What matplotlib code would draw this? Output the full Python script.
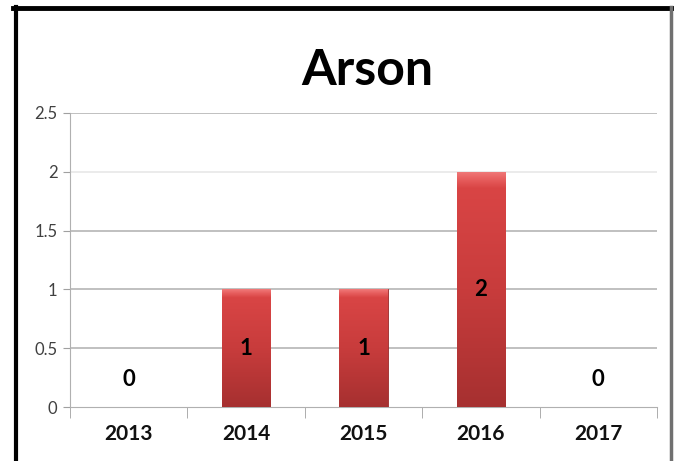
import numpy as np
import matplotlib.pyplot as plt
from matplotlib.lines import Line2D

years = ["2013", "2014", "2015", "2016", "2017"]
counts = [0, 1, 1, 2, 0]
yticks = [0, 0.5, 1, 1.5, 2, 2.5]
ytick_labels = ["0", "0.5", "1", "1.5", "2", "2.5"]

plt.rcParams['font.family'] = ['Lato', 'DejaVu Sans']

fig = plt.figure(figsize=(6.74, 4.61), dpi=100)
ax = fig.add_axes([0.1039, 0.1171, 0.8709, 0.6378])

x = np.arange(len(years))
bars = ax.bar(x, counts, width=0.41, color="#c93a3a", edgecolor="#9a2a2a", linewidth=0.6, zorder=3)

# vertical gradient on each bar, with a light strip at the top
grad = np.linspace(0, 1, 256).reshape(-1, 1)
cmap = plt.matplotlib.colors.LinearSegmentedColormap.from_list(
    "redgrad", [(0, "#a63030"), (0.5, "#c83c3c"), (0.93, "#d94545"),
                (0.97, "#e86060"), (1, "#f07a7a")])
for b in bars:
    if b.get_height() <= 0:
        continue
    x0, y0 = b.get_x(), b.get_y()
    w, h = b.get_width(), b.get_height()
    im = ax.imshow(grad, extent=[x0, x0 + w, y0, y0 + h], origin="lower",
                   cmap=cmap, aspect="auto", zorder=3.5)
    im.set_clip_path(b)

ax.set_xlim(-0.5, len(years) - 0.5)
ax.set_ylim(0, 2.5)

ax.set_yticks(yticks)
ax.set_yticklabels(ytick_labels, fontsize=12, color="#404040")
ax.set_xticks(x)
ax.set_xticklabels(years, fontsize=15, fontweight="bold", color="#111111")
ax.tick_params(axis="x", length=0, pad=12)
ax.tick_params(axis="y", length=5, color="#a0a0a0", pad=4)
ax.set_xticks(np.arange(-0.5, len(years)), minor=True)
ax.tick_params(axis="x", which="minor", length=8, color="#a0a0a0")

for yv in yticks[1:]:
    ax.axhline(yv, color="#e8e8e8" if yv == 2 else "#b5b5b5", linewidth=1.2, zorder=1)

for side in ["top", "right"]:
    ax.spines[side].set_visible(False)
ax.spines["left"].set_color("#b0b0b0")
ax.spines["bottom"].set_color("#b0b0b0")

for xi, c in zip(x, counts):
    if c == 0:
        ax.annotate(str(c), (xi, 0), xytext=(0, 20), textcoords="offset points",
                    ha="center", va="center", fontsize=16, fontweight="bold", zorder=5)
    else:
        ax.text(xi, c / 2, str(c), ha="center", va="center", fontsize=16,
                fontweight="bold", zorder=5)

fig.text(0.545, 0.848, "Arson", ha="center", va="center", fontsize=36, fontweight="bold")

# outer frame
fig.add_artist(Line2D([13 / 674, 672 / 674], [1 - 8 / 461, 1 - 8 / 461], color="black", linewidth=3.5))
fig.add_artist(Line2D([16 / 674, 16 / 674], [0, 1 - 7 / 461], color="black", linewidth=3))
fig.add_artist(Line2D([671 / 674, 671 / 674], [0, 1 - 7 / 461], color="#707070", linewidth=2.5))

fig.savefig("out.png", dpi=100)
